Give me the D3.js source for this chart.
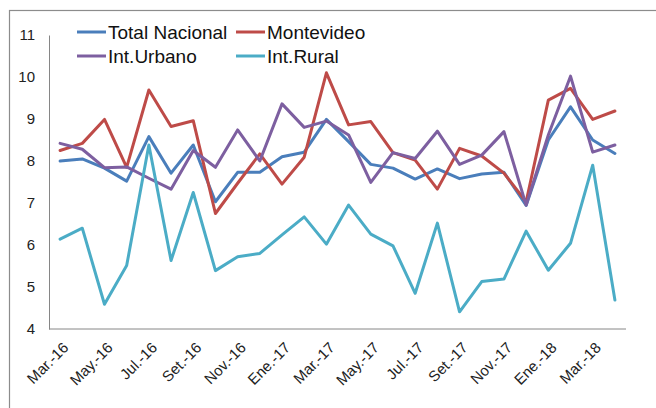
<!DOCTYPE html>
<html>
<head>
<meta charset="utf-8">
<script src="https://cdn.jsdelivr.net/npm/d3@7"></script>
<style>
  html, body { margin: 0; padding: 0; background: #fff; }
  svg { display: block; }
</style>
</head>
<body>
<svg id="chart" width="656" height="408"></svg>
<script>
// monthly values, Mar-16 .. Abr-18
const months = [
  "Mar.-16", "Abr.-16", "May.-16", "Jun.-16", "Jul.-16", "Ago.-16", "Set.-16", "Oct.-16",
  "Nov.-16", "Dic.-16", "Ene.-17", "Feb.-17", "Mar.-17", "Abr.-17", "May.-17", "Jun.-17",
  "Jul.-17", "Ago.-17", "Set.-17", "Oct.-17", "Nov.-17", "Dic.-17", "Ene.-18", "Feb.-18",
  "Mar.-18", "Abr.-18"
];
const totalNacional = [8.0, 8.05, 7.83, 7.52, 8.58, 7.71, 8.38, 7.03, 7.73, 7.73, 8.1, 8.21, 8.99,
  8.46, 7.92, 7.83, 7.57, 7.81, 7.58, 7.69, 7.73, 6.94, 8.5, 9.29, 8.5, 8.18];
const montevideo = [8.25, 8.42, 8.99, 7.85, 9.69, 8.82, 8.96, 6.75, 7.47, 8.17, 7.45, 8.09, 10.1,
  8.86, 8.94, 8.2, 8.02, 7.33, 8.3, 8.12, 7.71, 7.03, 9.45, 9.73, 8.99, 9.19];
const intUrbano = [8.42, 8.28, 7.84, 7.86, 7.59, 7.33, 8.25, 7.85, 8.74, 8.0, 9.36, 8.8, 8.95,
  8.62, 7.49, 8.2, 8.06, 8.71, 7.92, 8.14, 8.7, 6.95, 8.62, 10.02, 8.21, 8.38];
const intRural = [6.14, 6.4, 4.59, 5.51, 8.38, 5.63, 7.25, 5.39, 5.72, 5.8, 6.24, 6.67, 6.02,
  6.95, 6.26, 5.98, 4.85, 6.52, 4.41, 5.13, 5.19, 6.33, 5.4, 6.04, 7.9, 4.69];
const yTicks = [4, 5, 6, 7, 8, 9, 10, 11];

const series = [
  { name: "Total Nacional", values: totalNacional, color: "#4a7ebb" },
  { name: "Montevideo", values: montevideo, color: "#be4b48" },
  { name: "Int.Urbano", values: intUrbano, color: "#7d5fa0" },
  { name: "Int.Rural", values: intRural, color: "#4bacc6" },
];

const svg = d3.select("#chart");
const FONT = "'Liberation Sans', Arial, sans-serif";
const AXIS = "#868686";

// outer chart frame (only left/top edges fall inside the picture)
svg.append("rect")
  .attr("x", 9.5).attr("y", 10.5).attr("width", 660).attr("height", 420)
  .attr("fill", "none").attr("stroke", "#8c8c8c").attr("stroke-width", 1.2);

const x = d3.scalePoint().domain(months).range([49, 626]).padding(0.5);
const y = d3.scaleLinear().domain([4, 11]).range([329, 35]);

// y axis
const yAxis = svg.append("g").attr("transform", "translate(49,0)")
  .call(d3.axisLeft(y).tickValues(yTicks).tickFormat(d3.format("d")).tickSize(0).tickPadding(14));
yAxis.select(".domain").attr("stroke", AXIS).attr("stroke-width", 1);
yAxis.selectAll("text").style("font", `15px ${FONT}`).attr("fill", "#222");

// x axis: label every second month
const xAxis = svg.append("g").attr("transform", "translate(0,329)")
  .call(d3.axisBottom(x).tickValues(months.filter((d, i) => i % 2 === 0)).tickSize(0));
xAxis.select(".domain").attr("stroke", AXIS).attr("stroke-width", 1).attr("d", "M49,0H626");
xAxis.selectAll("text")
  .style("font", `15px ${FONT}`).attr("fill", "#222")
  .attr("text-anchor", "end")
  .attr("dy", "0.35em")
  .attr("transform", "translate(5,16) rotate(-45)")
  .attr("y", 0);

// lines
const line = d3.line().x((d, i) => x(months[i])).y(d => y(d));
svg.append("g").selectAll("path").data(series).join("path")
  .attr("d", d => line(d.values))
  .attr("fill", "none")
  .attr("stroke", d => d.color)
  .attr("stroke-width", 3)
  .attr("stroke-linejoin", "round")
  .attr("stroke-linecap", "round");

// legend, 2 x 2
const legend = svg.append("g").selectAll("g").data(series).join("g")
  .attr("transform", (d, i) => `translate(${i % 2 ? 236 : 77},${i < 2 ? 32 : 56})`);
legend.append("line")
  .attr("x1", 0).attr("x2", 29).attr("y1", 0).attr("y2", 0)
  .attr("stroke", d => d.color).attr("stroke-width", 3);
legend.append("text")
  .attr("x", 31).attr("y", 6.8)
  .text(d => d.name)
  .style("font", `19px ${FONT}`).attr("fill", "#111");
</script>
</body>
</html>
